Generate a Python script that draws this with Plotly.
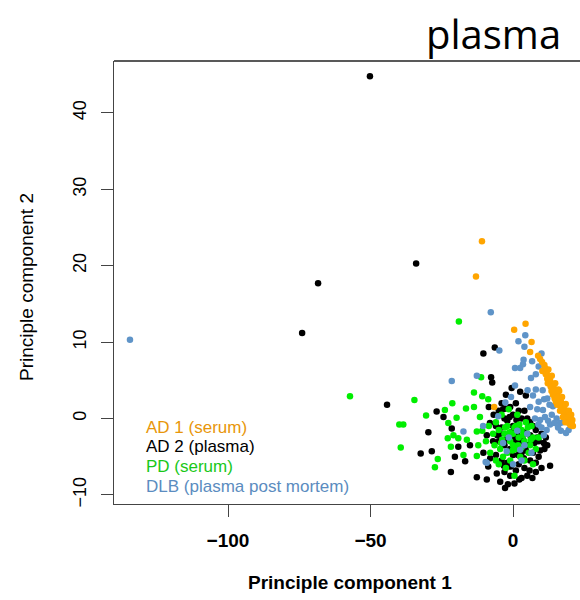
import plotly.graph_objects as go

# ---------------- data ----------------
groups = ["AD 1 (serum)", "AD 2 (plasma)", "PD (serum)", "DLB (plasma post mortem)"]
colors = ["#FFA500", "#000000", "#00EE00", "#5F94C8"]
text_colors = ["#E8960A", "#000000", "#19C819", "#5B8CC0"]

ad1_points = [(-10.9, 23.2), (-13.0, 18.6), (4.4, 12.4), (0.4, 11.6), (6.5, 10.0), (6.0, 8.7),
              (11.0, 7.0), (10.3, 6.2), (11.8, 6.0), (12.5, 5.5), (13.0, 5.0), (12.2, 4.6),
              (13.8, 4.4), (14.3, 4.0), (13.5, 3.6), (14.9, 3.3), (15.4, 3.0), (14.6, 2.6),
              (16.0, 2.4), (16.3, 2.0), (15.5, 1.8), (16.9, 1.5), (17.2, 1.2), (16.5, 1.0),
              (17.8, 0.8), (18.1, 0.5), (17.5, 0.2), (18.7, 0.0), (19.0, -0.3), (18.4, -0.5),
              (19.5, -0.4), (19.8, -0.7), (20.2, -0.9), (20.6, -0.6), (19.2, 0.6), (15.0, 2.2),
              (12.8, 4.9), (17.0, 1.9), (18.9, 0.9), (11.5, 5.8), (-6.6, 1.5), (14.0, 3.1),
              (16.2, 3.6), (12.0, 5.2), (13.2, 4.2), (14.5, 3.4), (15.8, 2.8), (16.8, 2.2),
              (17.5, 1.6), (18.3, 1.1), (19.3, 0.2), (20.0, 0.1), (20.8, -0.2), (11.2, 6.6),
              (12.4, 6.4), (13.6, 5.6), (14.8, 4.6), (15.9, 3.8), (17.2, 2.8), (18.5, 1.9),
              (19.6, 1.0), (20.4, 0.5), (21.0, -1.0), (9.5, 7.8), (10.2, 7.4), (8.8, 8.2)]

ad2_points = [(-50.2, 44.8), (-34.0, 20.3), (-68.4, 17.7), (-74.0, 11.2), (-44.2, 1.8),
              (-6.4, 9.3), (-10.4, 8.5), (-7.7, 5.4), (-7.3, 4.7), (-2.5, 3.1), (-2.8, 1.3),
              (-26.8, 0.9), (-24.4, 0.2), (-21.5, -1.3), (-29.7, -1.8), (-32.4, -4.6),
              (-28.5, -4.3), (-8.1, -0.6), (-9.2, -2.2), (-15.1, -3.5), (-19.2, -3.7),
              (-20.4, -5.0), (-10.4, -4.5), (-16.8, -5.6), (-8.7, -6.3), (-21.8, -7.0),
              (-12.7, -7.7), (-9.2, -8.0), (-5.7, -7.2), (-2.8, -9.1), (8.0, -7.0), (13.0, -6.2),
              (-5.0, 1.0), (-4.0, 2.0), (-3.0, 0.0), (-1.0, 1.5), (0.0, 0.5), (1.0, 2.0),
              (2.0, 1.0), (3.0, 0.0), (4.0, 1.0), (5.0, 0.0), (6.0, -0.5), (-6.0, -1.0),
              (-4.0, -1.2), (-2.0, -0.3), (0.0, -1.0), (2.0, -1.5), (4.0, -1.8), (6.0, -2.2),
              (8.0, -1.5), (9.0, -3.0), (10.0, -2.0), (-7.0, -3.0), (-5.0, -3.0), (-3.0, -3.5),
              (-1.0, -4.0), (1.0, -3.0), (3.0, -4.5), (5.0, -3.5), (7.0, -4.5), (9.0, -5.0),
              (11.0, -4.0), (-6.0, -4.8), (-4.0, -5.5), (-2.0, -5.8), (0.0, -4.8), (2.0, -6.0),
              (4.0, -6.5), (6.0, -5.5), (8.0, -5.8), (-3.0, -7.0), (-1.0, -7.5), (1.0, -6.8),
              (3.0, -7.8), (5.0, -7.5), (10.0, -6.5), (0.5, -8.5), (-4.5, -8.3), (12.0, -3.5),
              (-8.0, -5.2), (-1.5, -2.2), (1.5, -2.2), (3.5, -2.8), (7.5, -3.2), (11.5, -2.5),
              (4.5, 3.0), (-0.5, 4.0), (2.5, 3.5), (-0.5, -1.8), (0.8, -2.6), (2.8, -3.2),
              (-2.5, -2.8), (-4.5, -2.0), (1.8, -4.8), (-0.8, -6.3), (3.8, -5.2), (5.8, -6.8),
              (7.0, -1.0), (8.5, -2.5), (-3.5, 1.2), (-1.2, 0.2), (1.2, -0.2), (6.5, -3.0),
              (9.5, -4.2), (10.8, -3.2), (-5.5, -2.2), (-6.8, 0.5), (-8.5, 1.5), (-3.2, -6.2),
              (2.2, -8.0), (6.8, -7.8), (-1.8, -8.6), (4.5, -4.2)]

pd_points = [(-57.2, 2.9), (-19.0, 12.7), (-11.2, 5.4), (-13.7, 3.4), (-10.8, 2.9), (-8.7, 2.5),
             (-34.6, 2.4), (-21.3, 2.0), (-16.5, 1.3), (-13.7, 1.5), (-23.9, 1.1), (-30.5, 0.4),
             (-19.8, 0.1), (-11.6, 0.2), (-39.9, -0.8), (-38.5, -0.8), (-22.7, -0.6),
             (-39.4, -3.8), (-26.4, -5.3), (-27.4, -6.4), (-12.7, -1.7), (-10.8, -1.6),
             (-22.9, -2.6), (-20.9, -2.2), (-19.2, -2.6), (-16.2, -2.8), (-12.2, -3.5),
             (-21.8, -3.7), (-17.4, -4.8), (-12.7, -4.9), (0.5, -7.5), (-6.0, -0.5),
             (-5.0, -1.5), (-4.0, 0.5), (-3.0, -2.0), (-2.0, -1.0), (-1.0, -3.0), (0.0, -2.0),
             (1.0, -1.0), (2.0, -2.5), (3.0, -1.5), (4.0, -3.0), (5.0, -2.0), (6.0, -3.5),
             (7.0, -2.5), (8.0, -4.0), (-6.5, -3.5), (-4.5, -4.0), (-3.5, -5.0), (-2.0, -4.5),
             (-1.0, -5.5), (1.0, -4.0), (2.5, -5.0), (4.0, -5.5), (5.5, -4.5), (7.0, -6.0),
             (-5.0, -6.0), (-2.5, -6.5), (0.0, -3.5), (3.0, -3.8), (6.5, -1.0), (-7.0, -2.0),
             (-8.0, -4.5), (-6.0, -5.5), (9.0, -2.5), (-1.5, 1.2), (1.5, 0.5), (4.5, -0.5),
             (-3.8, -2.8), (-1.2, -1.8), (0.5, -1.2), (2.2, -0.8), (-2.8, -1.2), (3.5, -2.2),
             (-0.2, -4.2), (1.8, -3.5), (5.2, -1.2), (-4.2, -3.2), (6.2, -2.8), (-8.5, -1.0),
             (-9.5, -3.0)]

dlb_points = [(-134.4, 10.3), (-7.8, 13.9), (4.3, 10.9), (1.9, 10.1), (4.0, 9.4), (-4.8, 8.9),
              (3.7, 7.7), (6.7, 7.5), (3.5, 7.1), (0.7, 6.6), (2.5, 6.6), (-12.7, 5.6),
              (6.3, 5.3), (-21.5, 4.9), (0.7, 4.3), (5.1, 3.7), (-0.7, 2.8), (-2.7, 2.1),
              (-5.2, 0.3), (-17.4, -1.7), (-9.6, -5.7), (10.4, 3.7), (10.9, 2.5), (10.5, 1.1),
              (13.6, 0.5), (15.3, 0.0), (16.5, -0.6), (18.6, -1.9), (9.5, -0.2), (7.7, 0.0),
              (8.9, -0.8), (13.0, -0.8), (11.8, -1.5), (12.0, 2.6), (14.0, 1.6), (17.5, -0.5),
              (19.5, -1.5), (8.5, 1.2), (10.0, -1.2), (7.0, 3.0), (8.0, 5.8), (9.0, 6.8),
              (10.0, 8.5), (2.5, -4.1), (-2.2, -4.3), (-9.2, -5.8), (5.0, -2.0), (6.5, -4.5),
              (0.0, -6.0), (-1.5, -2.5), (3.0, -5.5), (11.2, 0.2), (12.3, -0.3), (14.5, -0.6),
              (15.8, -1.2), (9.0, 2.2), (8.0, 3.8), (6.0, 1.5), (12.8, 1.8), (16.8, -1.6),
              (10.8, -2.2), (-3.5, -3.2), (1.5, -1.6), (4.0, -3.5), (-10.5, -1.0)]

series = [ad2_points, pd_points, dlb_points, ad1_points]
series_idx = [1, 2, 3, 0]

# ---------------- layout helpers (pixel -> paper) ----------------
W, H = 580, 600
L, R, T, B = 114, 0, 61, 96
PW, PH = W - L - R, H - T - B


def px(x):
    return (x - L) / PW


def py(y):
    return (H - B - y) / PH


fig = go.Figure()
for pts, gi in zip(series, series_idx):
    fig.add_trace(go.Scatter(
        x=[p[0] for p in pts], y=[p[1] for p in pts], mode="markers", name=groups[gi],
        marker=dict(color=colors[gi], size=6.5, symbol="circle", line=dict(width=0)),
        showlegend=False))

axis_common = dict(showgrid=False, zeroline=False, showline=True, linecolor="#444",
                   linewidth=1, ticks="outside", ticklen=12, tickcolor="#444", mirror=False)

fig.update_layout(
    width=W, height=H, margin=dict(l=L, r=R, t=T, b=B),
    plot_bgcolor="white", paper_bgcolor="white",
    xaxis=dict(range=[-140, 23.5], tickvals=[-100, -50, 0], ticktext=["\u2212100", "\u221250", "0"],
               tickfont=dict(family="Liberation Sans", size=19, color="black", weight="bold"),
               ticklabelstandoff=7, **axis_common),
    yaxis=dict(range=[-11.2, 46.8], tickvals=[-10, 0, 10, 20, 30, 40],
               ticktext=["\u221210", "0", "10", "20", "30", "40"], tickangle=-90,
               tickfont=dict(family="Liberation Sans", size=18, color="black"),
               ticklabelstandoff=8, **axis_common),
)

# top border of the box
fig.add_shape(type="line", xref="paper", yref="paper", x0=0, x1=1, y0=1, y1=1,
              line=dict(color="#222", width=1.5))

# legend as text
legend_y = [427, 446, 466, 486]
for gi, yy in enumerate(legend_y):
    fig.add_annotation(text=groups[gi], xref="paper", yref="paper", x=px(144), y=py(yy),
                       xanchor="left", yanchor="middle", showarrow=False,
                       font=dict(family="Liberation Sans", size=17, color=text_colors[gi]))

# axis titles
fig.add_annotation(text="Principle component 1", xref="paper", yref="paper", x=px(350), y=py(582),
                   xanchor="center", yanchor="middle", showarrow=False,
                   font=dict(family="Liberation Sans", size=19, color="black", weight="bold"))
fig.add_annotation(text="Principle component 2", xref="paper", yref="paper", x=px(26), y=py(287),
                   xanchor="center", yanchor="middle", showarrow=False, textangle=-90,
                   font=dict(family="Liberation Sans", size=19, color="black"))

# panel title
fig.add_annotation(text="plasma", xref="paper", yref="paper", x=px(563), y=py(33),
                   xanchor="right", yanchor="middle", showarrow=False,
                   font=dict(family="Open Sans", size=40, color="black"))

fig.write_html("out.html")
